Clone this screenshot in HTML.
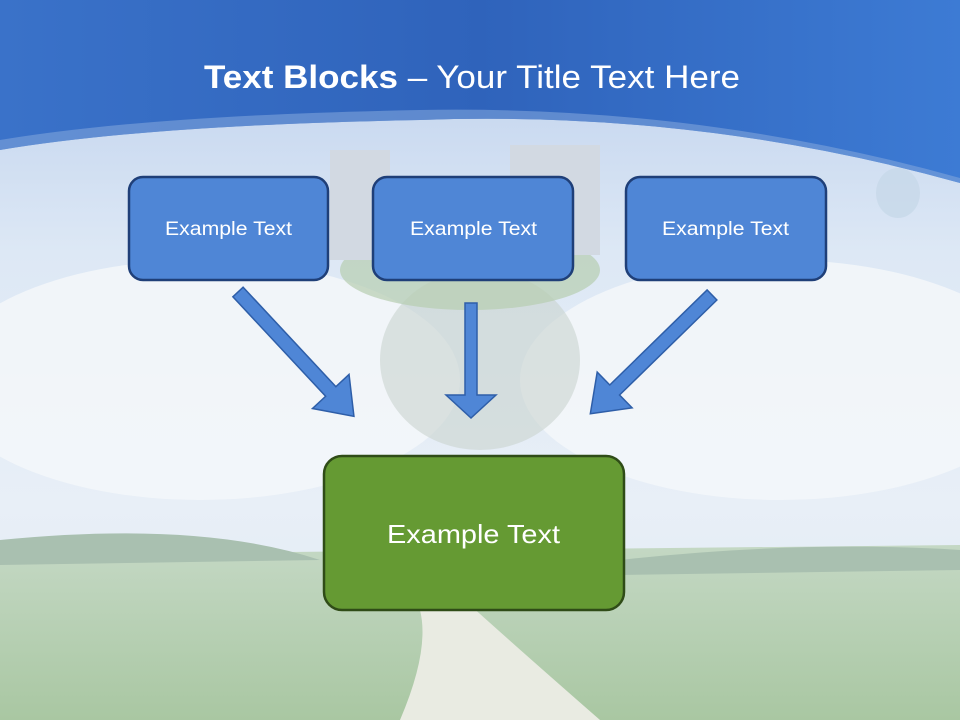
<!DOCTYPE html>
<html><head><meta charset="utf-8"><style>
body{margin:0;width:960px;height:720px;overflow:hidden;font-family:"Liberation Sans",sans-serif}
</style></head><body>
<svg width="960" height="720" viewBox="0 0 960 720" xmlns="http://www.w3.org/2000/svg">
<defs>
<linearGradient id="sky" x1="0" y1="0" x2="0" y2="1">
<stop offset="0" stop-color="#b9cdec"/><stop offset="0.35" stop-color="#dde8f5"/><stop offset="0.7" stop-color="#e8eff7"/><stop offset="1" stop-color="#dfe9f2"/>
</linearGradient>
<linearGradient id="grass" x1="0" y1="0" x2="0" y2="1">
<stop offset="0" stop-color="#c4d8c4"/><stop offset="1" stop-color="#a9c7a2"/>
</linearGradient>
<linearGradient id="band" x1="0" y1="0" x2="1" y2="0">
<stop offset="0" stop-color="#3a72c9"/><stop offset="0.5" stop-color="#2f63bb"/><stop offset="1" stop-color="#3d7bd4"/>
</linearGradient>
</defs>
<rect width="960" height="720" fill="url(#sky)"/>
<ellipse cx="200" cy="380" rx="260" ry="120" fill="#f3f6fa" opacity="0.9"/>
<ellipse cx="780" cy="380" rx="260" ry="120" fill="#f3f6fa" opacity="0.9"/>
<ellipse cx="480" cy="360" rx="100" ry="90" fill="#c9d3cf" opacity="0.6"/>
<ellipse cx="470" cy="270" rx="130" ry="40" fill="#b7cdb1" opacity="0.7"/>
<rect x="330" y="150" width="60" height="110" fill="#d2d9e2"/>
<rect x="510" y="145" width="90" height="110" fill="#d2d9e2"/>
<path d="M0 555 L960 545 L960 720 L0 720 Z" fill="url(#grass)"/>
<path d="M0 540 Q200 520 320 560 L0 565 Z M620 560 Q800 540 960 550 L960 570 L620 575 Z" fill="#a9c0b0"/>
<path d="M400 720 Q430 650 420 610 L470 605 Q520 650 600 720 Z" fill="#e9ebe2"/>
<path d="M0 0 H960 V183 Q700 110 420 120 Q150 125 0 150 Z" fill="url(#band)"/>
<path d="M0 150 Q150 125 420 120 Q700 110 960 183 L960 178 Q700 105 420 110 Q150 115 0 140 Z" fill="#7fa3db" opacity="0.6"/>
<ellipse cx="898" cy="193" rx="22" ry="25" fill="#c7d8e8" opacity="0.8"/>
<text x="204" y="88" font-size="32" fill="#fff" textLength="536" lengthAdjust="spacingAndGlyphs"><tspan font-weight="bold">Text Blocks</tspan> – Your Title Text Here</text>
<g stroke="#1f3f78" stroke-width="2.5" fill="#4f86d6">
<rect x="129" y="177" width="199" height="103" rx="14"/>
<rect x="373" y="177" width="200" height="103" rx="14"/>
<rect x="626" y="177" width="200" height="103" rx="14"/>
</g>
<rect x="324" y="456" width="300" height="154" rx="18" fill="#659a33" stroke="#2f4c17" stroke-width="2.5"/>
<g fill="#fff" font-size="19">
<text x="165" y="235" textLength="127" lengthAdjust="spacingAndGlyphs">Example Text</text>
<text x="410" y="235" textLength="127" lengthAdjust="spacingAndGlyphs">Example Text</text>
<text x="662" y="235" textLength="127" lengthAdjust="spacingAndGlyphs">Example Text</text>
<text x="387" y="543" font-size="26" textLength="173" lengthAdjust="spacingAndGlyphs">Example Text</text>
</g>
<g fill="#4f86d6" stroke="#2e5ea8" stroke-width="1.5">
<path transform="translate(238,292) rotate(47)" d="M0 -7 L136 -7 L136 -25 L170 0 L136 25 L136 7 L0 7 Z"/>
<path transform="translate(712,295) rotate(135.7)" d="M0 -7 L136 -7 L136 -25 L170 0 L136 25 L136 7 L0 7 Z"/>
<path transform="translate(471,303) rotate(90)" d="M0 -6 L92 -6 L92 -25 L115 0 L92 25 L92 6 L0 6 Z"/>
</g>
</svg>
</body></html>
